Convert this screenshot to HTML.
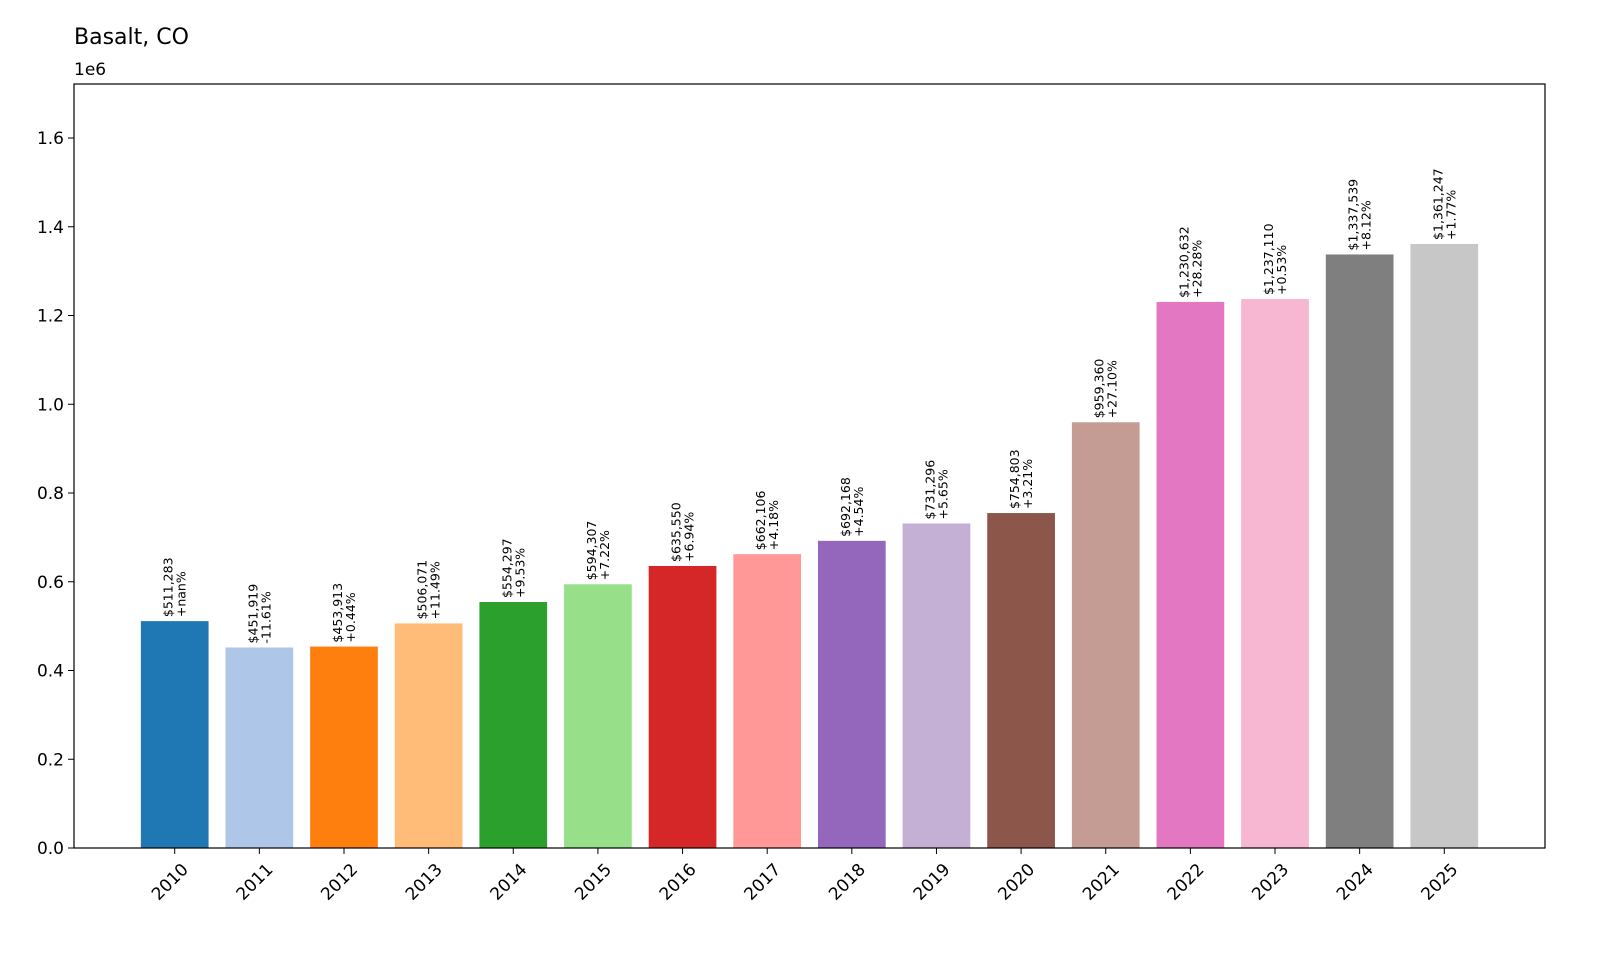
<!DOCTYPE html>
<html><head><meta charset="utf-8"><style>
html,body{margin:0;padding:0;background:#fff;}
svg{display:block;font-family:"DejaVu Sans","Liberation Sans",sans-serif;}
</style></head><body>
<svg id="chart" width="1600" height="960" viewBox="0 0 1600 960">
<text x="74" y="44" font-size="22" fill="#000">Basalt, CO</text>
<text x="74" y="75" font-size="17" fill="#000">1e6</text>
<g id="bars"></g>
<g id="yticks"></g>
<g id="xticks"></g>
<rect x="74" y="84" width="1471" height="764" fill="none" stroke="#000" stroke-width="1.2"/>
</svg>
<script>
const years = ["2010","2011","2012","2013","2014","2015","2016","2017","2018","2019","2020","2021","2022","2023","2024","2025"];
const values = [511283,451919,453913,506071,554297,594307,635550,662106,692168,731296,754803,959360,1230632,1237110,1337539,1361247];
const pctLabels = ["+nan%","-11.61%","+0.44%","+11.49%","+9.53%","+7.22%","+6.94%","+4.18%","+4.54%","+5.65%","+3.21%","+27.10%","+28.28%","+0.53%","+8.12%","+1.77%"];
const yTicks = [0,0.2,0.4,0.6,0.8,1.0,1.2,1.4,1.6];
const colors = ["#1f77b4","#aec7e8","#ff7f0e","#ffbb78","#2ca02c","#98df8a","#d62728","#ff9896","#9467bd","#c5b0d5","#8c564b","#c49c94","#e377c2","#f7b6d2","#7f7f7f","#c7c7c7"];

const NS="http://www.w3.org/2000/svg";
const L=74,R=1545,T=84,B=848;
const yMax=1.7217e6;
const xMin=-1.19,xMax=years.length-1+1.19;
const xs=i=>L+(i-xMin)/(xMax-xMin)*(R-L);
const ys=v=>B-v/yMax*(B-T);
const bw=0.8*(R-L)/(xMax-xMin);
function mk(tag,attrs,parent){const e=document.createElementNS(NS,tag);for(const k in attrs)e.setAttribute(k,attrs[k]);parent.appendChild(e);return e;}
const gB=document.getElementById('bars'),gY=document.getElementById('yticks'),gX=document.getElementById('xticks');
values.forEach((v,i)=>{
  const cx=xs(i),y=ys(v);
  const r=mk('rect',{x:cx-bw/2,y:y,width:bw,height:B-y,fill:colors[i%colors.length]},gB);
  
  
  const t=mk('text',{transform:`translate(${cx},${y-4}) rotate(-90)`,'font-size':12.5,fill:'#000'},gB);
  
  
  const s1=mk('tspan',{x:0,y:-2},t);s1.textContent='$'+v.toLocaleString('en-US');
  const s2=mk('tspan',{x:0,y:11},t);s2.textContent=pctLabels[i];
  const tl=mk('line',{x1:cx,x2:cx,y1:B,y2:B+6,stroke:'#000','stroke-width':1},gX);
  
  
  const xl=mk('text',{transform:`translate(${cx+6},${B+14}) rotate(-45)`,'font-size':17,'text-anchor':'end','dominant-baseline':'hanging',fill:'#000'},gX);
  
  
  xl.textContent=years[i];
});
yTicks.forEach(t=>{
  const y=ys(t*1e6);
  const l=mk('line',{x1:L-6,x2:L,y1:y,y2:y,stroke:'#000','stroke-width':1},gY);
  
  
  const tx=mk('text',{x:L-10,y:y+6,'font-size':17,'text-anchor':'end',fill:'#000'},gY);
  
  
  tx.textContent=t.toFixed(1);
});
</script>
</body></html>
